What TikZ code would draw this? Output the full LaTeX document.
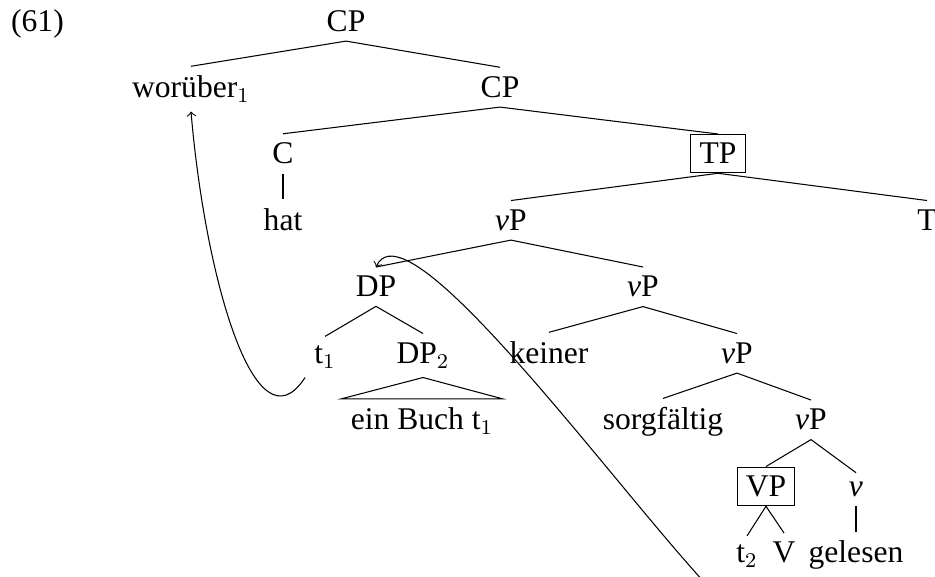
\documentclass[tikz,border=0pt]{standalone}
\usepackage{fontspec}
\setmainfont{Liberation Serif}
\tikzset{
	lbl/.style={anchor=base},
	boxed/.style={lbl, draw}
}

\begin{document}
\begin{tikzpicture}[x=0.38pt, y=-0.38pt, font=\fontsize{12}{14}\selectfont]
			%%%%% START %%%%%
			\useasboundingbox (0, 0) rectangle (935, 577);
			\clip (0, 0) rectangle (935, 577);
			
			\node[lbl] (ex) at (37.5, 31.5) {(61)};
			
			\node[lbl] (cp) at (346, 31.5) {CP};
			\node[lbl] (wor) at (191, 97.5) {worüber$_1$};
			\node[lbl] (cpb) at (500, 97.5) {CP};
			\draw (cp.south) -- (wor.north);
			\draw (cp.south) -- (cpb.north);
			
			\node[lbl] (c) at (283, 164) {C};
			\node[boxed] (tp) at (718, 164) {TP};
			\draw (cpb.south) -- (c.north);
			\draw (cpb.south) -- (tp.north);
			
			\node[lbl] (hat) at (283, 230.5) {hat};
			\node[lbl] (vpa) at (511, 230.5) {\textit{v}P};
			\node[lbl] (t) at (927, 230.5) {T};
			\draw (c.south) -- (hat.north);
			\draw (tp.south) -- (vpa.north);
			\draw (tp.south) -- (t.north);
			
			\node[lbl] (dp) at (376, 297) {DP};
			\node[lbl] (vpb) at (643, 297) {\textit{v}P};
			\draw (vpa.south) -- (dp.north);
			\draw (vpa.south) -- (vpb.north);
			
			\node[lbl] (ta) at (325, 363.5) {t$_1$};
			\node[lbl] (dpb) at (423, 363.5) {DP$_2$};
			\node[lbl] (keiner) at (549, 363.5) {keiner};
			\node[lbl] (vpc) at (737, 363.5) {\textit{v}P};
			\draw (dp.south) -- (ta.north);
			\draw (dp.south) -- (dpb.north);
			\draw (vpb.south) -- (keiner.north);
			\draw (vpb.south) -- (vpc.north);
			
			\node[lbl] (buch) at (422, 430) {ein Buch t$_1$};
			\draw (dpb.south) -- (buch.north west) -- (buch.north east) -- cycle;
			
			\node[lbl] (sorg) at (663, 430) {sorgfältig};
			\node[lbl] (vpd) at (811, 430) {\textit{v}P};
			\draw (vpc.south) -- (sorg.north);
			\draw (vpc.south) -- (vpd.north);
			
			\node[boxed] (bigvp) at (766, 496.5) {VP};
			\node[lbl] (vhead) at (856, 496.5) {\textit{v}};
			\draw (vpd.south) -- (bigvp.north);
			\draw (vpd.south) -- (vhead.north);
			
			\node[lbl] (tb) at (747, 563) {t$_2$};
			\node[lbl] (verb) at (784, 563) {V};
			\node[lbl] (gelesen) at (856, 563) {gelesen};
			\draw (bigvp.south) -- (tb.north);
			\draw (bigvp.south) -- (verb.north);
			\draw (vhead.south) -- (gelesen.north);
			
			\draw[->] (ta.south west) .. controls +(-50, 77) and +(14, 165) .. (wor.south);
			\draw[->] (tb.south) .. controls +(73, 212) and +(44, -95) .. (dp.north);
			
			%%%%% END %%%%%
		\end{tikzpicture}
\end{document}
